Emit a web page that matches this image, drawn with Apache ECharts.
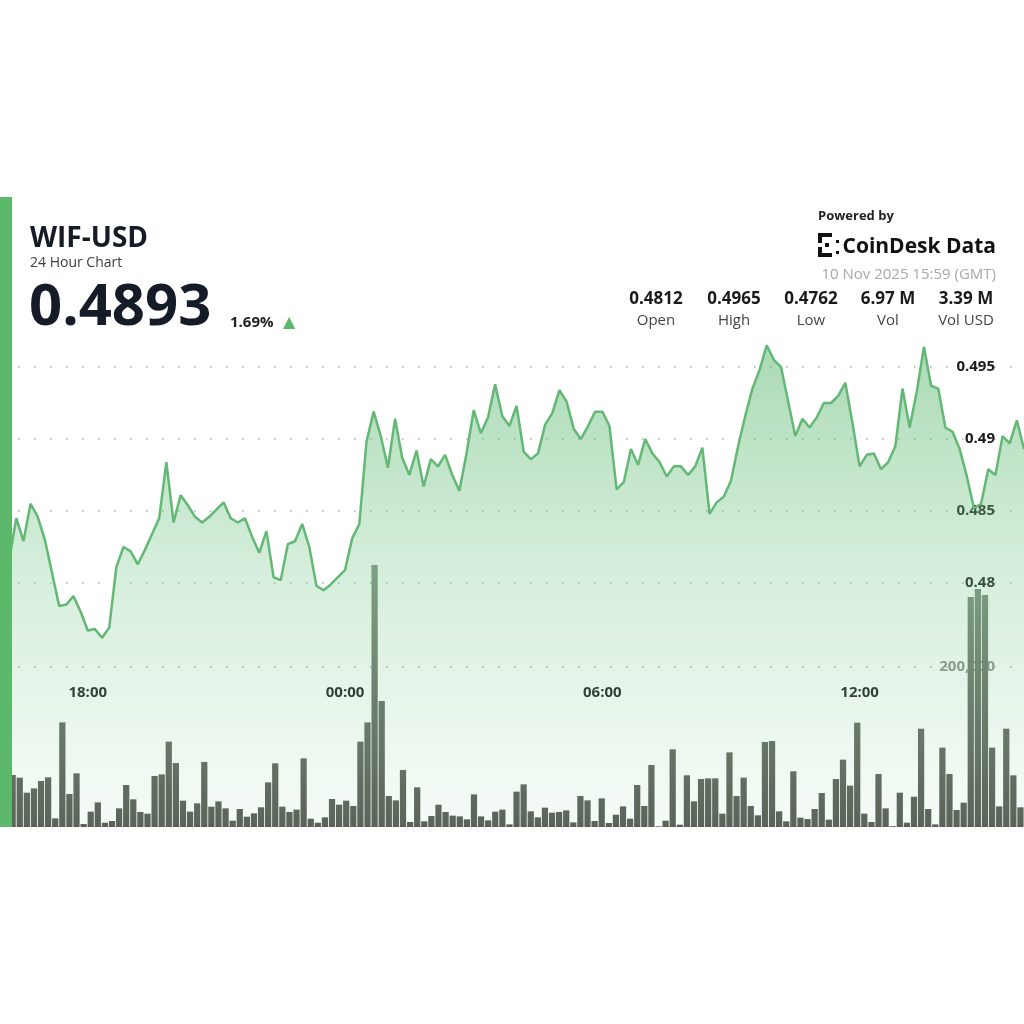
<!DOCTYPE html>
<html>
<head>
<meta charset="utf-8">
<title>WIF-USD 24 Hour Chart</title>
<script src="https://cdn.jsdelivr.net/npm/echarts@6.0.0/dist/echarts.min.js"></script>
<style>
  html, body { margin: 0; padding: 0; background: #fff; }
  #chart { width: 1024px; height: 1024px; }
</style>
</head>
<body>
<div id="chart"></div>
<script>
// 价格（每 10 分钟一个点，16:00 起）
var price_list = [
  0.4812, 0.4816, 0.4845, 0.4829, 0.4855, 0.4846, 0.4830, 0.4807, 0.4784, 0.4785, 0.4791, 0.4780,
  0.4767, 0.4768, 0.4762, 0.4769, 0.4811, 0.4825, 0.4822, 0.4813, 0.4823, 0.4834, 0.4845, 0.4884,
  0.4842, 0.4861, 0.4854, 0.4846, 0.4842, 0.4846, 0.4851, 0.4856, 0.4845, 0.4842, 0.4845, 0.4832,
  0.4821, 0.4836, 0.4804, 0.4802, 0.4827, 0.4829, 0.4841, 0.4825, 0.4798, 0.4795, 0.4799, 0.4804,
  0.4809, 0.4831, 0.4841, 0.4898, 0.4919, 0.4902, 0.4880, 0.4914, 0.4887, 0.4875, 0.4892, 0.4867,
  0.4886, 0.4881, 0.4889, 0.4875, 0.4864, 0.4890, 0.4920, 0.4904, 0.4915, 0.4938, 0.4916, 0.4909,
  0.4923, 0.4891, 0.4886, 0.4890, 0.4910, 0.4918, 0.4934, 0.4926, 0.4907, 0.4900, 0.4909, 0.4919,
  0.4919, 0.4909, 0.4865, 0.4870, 0.4893, 0.4882, 0.4900, 0.4890, 0.4884, 0.4874, 0.4881, 0.4881,
  0.4875, 0.4881, 0.4894, 0.4848, 0.4856, 0.4860, 0.4871, 0.4895, 0.4916, 0.4935, 0.4948, 0.4965,
  0.4955, 0.4950, 0.4926, 0.4902, 0.4914, 0.4908, 0.4915, 0.4925, 0.4925, 0.4930, 0.4939, 0.4911,
  0.4881, 0.4889, 0.4890, 0.4879, 0.4884, 0.4895, 0.4935, 0.4908, 0.4933, 0.4964, 0.4937, 0.4935,
  0.4908, 0.4905, 0.4893, 0.4874, 0.4852, 0.4855, 0.4879, 0.4875, 0.4902, 0.4897, 0.4913, 0.4893
];

// 成交量（同样 10 分钟一根）
var volume_list = [
  60000, 65000, 61700, 42900, 48300, 57500, 62100, 10800, 130800, 41300, 67100, 3750,
  19200, 30800, 5400, 7500, 23300, 52500, 34600, 18800, 16700, 63800, 65800, 106700,
  80000, 32900, 19200, 29600, 81300, 25400, 32100, 23300, 7900, 22500, 12900, 17100,
  24600, 55800, 79600, 25400, 18800, 21700, 85800, 10400, 5400, 12100, 35000, 27900,
  32900, 26300, 106700, 130800, 327500, 157500, 38800, 33300, 71300, 6300, 49600, 7100,
  13800, 27900, 18800, 14200, 13300, 9600, 40800, 13300, 8300, 19200, 21700, 3300,
  44200, 53300, 19600, 12100, 24200, 17900, 18800, 20800, 5800, 38800, 33300, 7500,
  35800, 5000, 15400, 25800, 10400, 52500, 26300, 77500, 800, 7900, 97100, 2900,
  64600, 32100, 60000, 60800, 60800, 16700, 93300, 38800, 61700, 26300, 14600, 106300,
  107500, 19600, 7100, 69600, 11700, 10000, 22500, 42500, 9200, 60000, 84200, 51700,
  130400, 16700, 6300, 66300, 23300, 1000, 42900, 5400, 37900, 122900, 22500, 3300,
  99200, 66300, 21300, 30400, 287500, 297500, 290000, 99200, 25800, 122900, 64600, 24600
];

// 时间轴：16:00 开始，每 10 分钟
var time_list = [];
for (var i = 0; i < price_list.length; i++) {
  var m = (16 * 60 + i * 10) % (24 * 60);
  var hh = Math.floor(m / 60), mm = m % 60;
  time_list.push((hh < 10 ? '0' : '') + hh + ':' + (mm < 10 ? '0' : '') + mm);
}
var time_labels = ['18:00', '00:00', '06:00', '12:00'];

// 头部信息
var pair_name = 'WIF-USD';
var sub_title = '24 Hour Chart';
var last_price = '0.4893';
var change_pct = '1.69%';
var stamp_text = '10 Nov 2025 15:59 (GMT)';
var stat_values = ['0.4812', '0.4965', '0.4762', '6.97 M', '3.39 M'];
var stat_names = ['Open', 'High', 'Low', 'Vol', 'Vol USD'];
var stat_x = [656, 734, 811, 888, 966];  // 每列中心位置

var GREEN = '#5cb96b';
var FONT = '"Open Sans", "Noto Sans", sans-serif';
var dotted = { color: '#a9aca8', width: 1.5, type: [1.5, 14.5] };

var chart = echarts.init(document.getElementById('chart'));

// 头部的文字
var header = [];
header.push({ type: 'text', x: 30, y: 239, style: { text: pair_name, font: 'bold 28px ' + FONT, fill: '#151b27', textVerticalAlign: 'middle' } });
header.push({ type: 'text', x: 30, y: 263, style: { text: sub_title, font: '14px ' + FONT, fill: '#3e3e3e', textVerticalAlign: 'middle' } });
header.push({ type: 'text', x: 29, y: 308, style: { text: last_price, font: 'bold 58px ' + FONT, fill: '#151b27', textVerticalAlign: 'middle' } });
header.push({ type: 'text', x: 230, y: 323, style: { text: change_pct, font: 'bold 15px ' + FONT, fill: '#222', textVerticalAlign: 'middle' } });
header.push({ type: 'text', x: 283, y: 323, style: { text: '▲', font: '16px "DejaVu Sans"', fill: GREEN, textVerticalAlign: 'middle' } });
header.push({ type: 'text', x: 818, y: 216, style: { text: 'Powered by', font: 'bold 13px ' + FONT, fill: '#222', textVerticalAlign: 'middle' } });
header.push({ type: 'text', x: 996, y: 247, style: { text: 'CoinDesk Data', font: 'bold 21px ' + FONT, fill: '#111', textAlign: 'right', textVerticalAlign: 'middle' } });
header.push({ type: 'text', x: 996, y: 275, style: { text: stamp_text, font: '15px ' + FONT, fill: '#a8a8a8', textAlign: 'right', textVerticalAlign: 'middle' } });
for (var k = 0; k < stat_values.length; k++) {
  header.push({ type: 'text', x: stat_x[k], y: 299, style: { text: stat_values[k], font: 'bold 17px ' + FONT, fill: '#1a1a1a', textAlign: 'center', textVerticalAlign: 'middle' } });
  header.push({ type: 'text', x: stat_x[k], y: 321, style: { text: stat_names[k], font: '15px ' + FONT, fill: '#454545', textAlign: 'center', textVerticalAlign: 'middle' } });
}
// logo 小图标
var logo = [[818, 233, 14, 4], [818, 253, 14, 4], [818, 233, 4, 10], [818, 247, 4, 10], [825, 243, 4, 4], [836, 240, 3, 3], [836, 251, 3, 3]];
logo.forEach(function (r) {
  header.push({ type: 'rect', shape: { x: r[0], y: r[1], width: r[2], height: r[3] }, style: { fill: '#111' } });
});
// 左侧绿色竖条，盖住图表最左边
header.push({ type: 'rect', z: 100, shape: { x: 0, y: 197, width: 12, height: 630 }, style: { fill: GREEN } });

chart.setOption({
  animation: false,
  backgroundColor: '#fff',
  textStyle: { fontFamily: FONT },
  grid: [
    { left: 2, right: 0, top: 295, bottom: 369 },   // 价格
    { left: 2, right: 0, top: 507, bottom: 197 }    // 成交量
  ],
  xAxis: [{
    type: 'category',
    gridIndex: 0,
    data: time_list,
    boundaryGap: false,
    axisLine: { show: false },
    axisTick: { show: false },
    splitLine: { show: false },
    axisLabel: {
      margin: 30,
      color: '#1c1c1c',
      fontWeight: 'bold',
      fontSize: 15,
      interval: function (index, value) { return time_labels.indexOf(value) >= 0; }
    }
  }, {
    type: 'category',
    gridIndex: 1,
    data: time_list,
    boundaryGap: true,
    show: false
  }],
  yAxis: [{
    type: 'value',
    gridIndex: 0,
    position: 'right',
    min: 0.475,
    max: 0.5,
    interval: 0.005,
    axisLine: { show: false },
    axisTick: { show: false },
    splitLine: { show: true, showMinLine: false, showMaxLine: false, lineStyle: dotted },
    axisLabel: {
      inside: true,
      margin: 29,
      showMinLabel: false,
      showMaxLabel: false,
      color: '#1a1a1a',
      fontWeight: 'bold',
      fontSize: 15,
      formatter: function (v) { return String(+v.toFixed(3)); }
    }
  }, {
    type: 'value',
    gridIndex: 1,
    position: 'right',
    min: 0,
    max: 400000,
    interval: 200000,
    axisLine: { show: false },
    axisTick: { show: false },
    splitLine: { show: true, showMinLine: false, showMaxLine: false, lineStyle: dotted },
    axisLabel: {
      inside: true,
      margin: 29,
      showMinLabel: false,
      showMaxLabel: false,
      color: '#8c918a',
      fontWeight: 'bold',
      fontSize: 15,
      formatter: function (v) { return v.toLocaleString('en-US'); }
    }
  }],
  series: [{
    name: 'Volume',
    type: 'bar',
    xAxisIndex: 1,
    yAxisIndex: 1,
    z: 1,
    barCategoryGap: '12%',
    // 上面偏绿灰，下面深灰
    itemStyle: {
      color: new echarts.graphic.LinearGradient(0, 560, 0, 827, [
        { offset: 0, color: '#7f917f' },
        { offset: 0.5, color: '#666d64' },
        { offset: 1, color: '#555852' }
      ], true)
    },
    data: volume_list
  }, {
    name: 'Price',
    type: 'line',
    xAxisIndex: 0,
    yAxisIndex: 0,
    z: 3,
    clip: false,
    symbol: 'none',
    lineStyle: { color: '#62b874', width: 2.5 },
    // 面积一直铺到成交量的底部
    areaStyle: {
      origin: 0.4631,
      color: new echarts.graphic.LinearGradient(0, 0, 0, 1, [
        { offset: 0, color: 'rgba(95,185,115,0.76)' },
        { offset: 0.5, color: 'rgba(120,200,140,0.42)' },
        { offset: 1, color: 'rgba(150,210,165,0.13)' }
      ])
    },
    data: price_list
  }],
  graphic: header
});
</script>
</body>
</html>
